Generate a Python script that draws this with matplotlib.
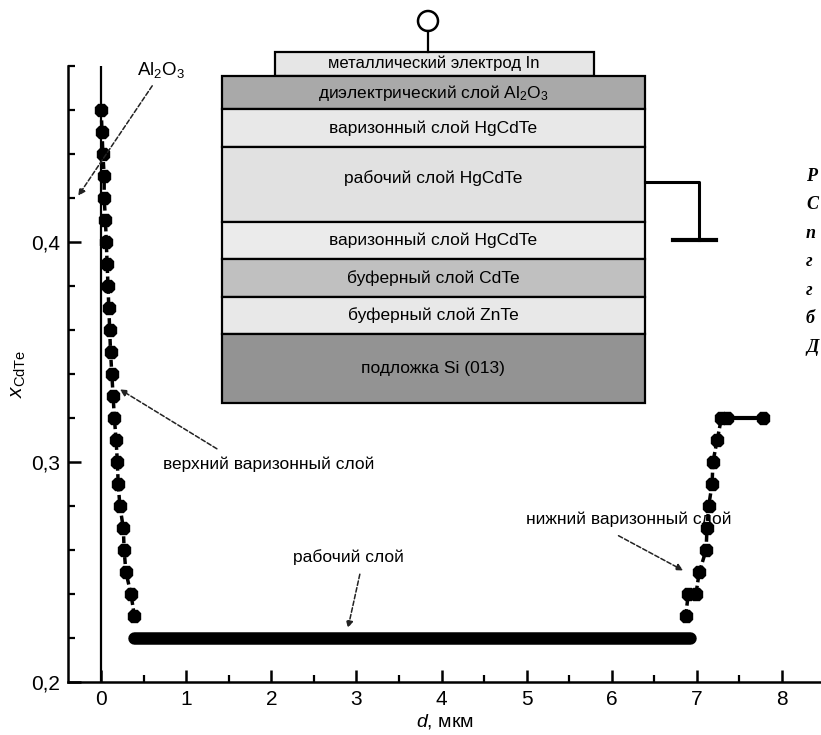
import matplotlib
matplotlib.use("Agg")
import matplotlib.pyplot as plt
from matplotlib.patches import Rectangle, Circle
from matplotlib.ticker import MultipleLocator, FixedLocator

plt.rcParams['font.family'] = ['Liberation Sans', 'DejaVu Sans']
plt.rcParams['mathtext.fontset'] = 'custom'
plt.rcParams['mathtext.rm'] = 'Liberation Sans'
plt.rcParams['mathtext.it'] = 'Liberation Sans:italic'

# composition profile x_CdTe(d)
top_d = [0.00, 0.01, 0.02, 0.035, 0.035, 0.05, 0.06, 0.07, 0.08, 0.09, 0.10, 0.11,
         0.125, 0.14, 0.155, 0.175, 0.19, 0.20, 0.22, 0.26, 0.27, 0.29, 0.35, 0.39]
top_x = [0.46, 0.45, 0.44, 0.43, 0.42, 0.41, 0.40, 0.39, 0.38, 0.37, 0.36, 0.35,
         0.34, 0.33, 0.32, 0.31, 0.30, 0.29, 0.28, 0.27, 0.26, 0.25, 0.24, 0.23]
work_d = [0.38, 6.92]
work_x = [0.22, 0.22]
bot_d = [6.87, 6.90, 6.99, 7.03, 7.11, 7.12, 7.14, 7.18, 7.19, 7.24, 7.29, 7.35, 7.78]
bot_x = [0.23, 0.24, 0.24, 0.25, 0.26, 0.27, 0.28, 0.29, 0.30, 0.31, 0.32, 0.32, 0.32]

y_ticks = [0.2, 0.3, 0.4]
y_ticklabels = ['0,2', '0,3', '0,4']
x_ticks = [0, 1, 2, 3, 4, 5, 6, 7, 8]

# layer stack schematic (top to bottom)
layer_names = ['диэлектрический слой Al$_2$O$_3$', 'варизонный слой HgCdTe',
               'рабочий слой HgCdTe', 'варизонный слой HgCdTe',
               'буферный слой CdTe', 'буферный слой ZnTe', 'подложка Si (013)']
layer_colors = ['#a9a9a9', '#e8e8e8', '#e1e1e1', '#ebebeb', '#c0c0c0', '#e8e8e8', '#939393']
layer_bounds = [76, 109, 147, 222, 259, 297, 334, 403]  # pixel rows
electrode_name = 'металлический электрод In'

fig = plt.figure(figsize=(8.21, 7.35), dpi=100)
ax = fig.add_axes([68 / 821, 53 / 735, 1 - 68 / 821, 616 / 735])

ax.axvline(0, color='black', lw=1.6, zorder=1)
ax.plot(top_d, top_x, color='black', ls=(0, (2, 1)), lw=2.5, marker='8', ms=9.5,
        mfc='black', mec='black', zorder=3)
ax.plot(work_d, work_x, color='black', lw=9, solid_capstyle='round', zorder=3)
ax.plot(bot_d, bot_x, color='black', ls=(0, (2, 1)), lw=2.5, marker='8', ms=9.5,
        mfc='black', mec='black', zorder=3)
ax.plot(bot_d[-2:], bot_x[-2:], color='black', lw=3, zorder=3)

ax.set_xlim(-0.39, 8.46)
ax.set_ylim(0.2, 0.48)
for s in ['top', 'right']:
    ax.spines[s].set_visible(False)
for s in ['left', 'bottom']:
    ax.spines[s].set_linewidth(1.8)

ax.set_yticks(y_ticks)
ax.set_yticklabels(y_ticklabels)
ax.yaxis.set_minor_locator(FixedLocator([0.22, 0.24, 0.26, 0.28, 0.32, 0.34, 0.36, 0.38,
                                         0.42, 0.44, 0.46, 0.48]))
ax.set_xticks(x_ticks)
ax.xaxis.set_minor_locator(MultipleLocator(0.5))
ax.tick_params(which='major', direction='in', length=9, width=1.8, labelsize=15, pad=6)
ax.tick_params(which='minor', direction='in', length=5, width=1.6)

ax.set_xlabel('$d$, мкм', fontsize=14, labelpad=2)
ax.set_ylabel('$x_{\\mathrm{CdTe}}$', fontsize=15, labelpad=2)

arrow = dict(arrowstyle='-|>', color='#222222', lw=1.1, ls=(0, (3, 1.5)),
             mutation_scale=10, shrinkA=0, shrinkB=0)
ax.text(0.42, 0.478, 'Al$_2$O$_3$', fontsize=13.5, ha='left', va='center')
ax.annotate('', xy=(-0.27, 0.421), xytext=(0.6, 0.471), arrowprops=arrow,
            annotation_clip=False)
ax.annotate('', xy=(0.22, 0.333), xytext=(1.36, 0.306), arrowprops=arrow)
ax.text(0.73, 0.299, 'верхний варизонный слой', fontsize=12.5, ha='left', va='center')
ax.annotate('', xy=(2.9, 0.2245), xytext=(3.04, 0.249), arrowprops=arrow)
ax.text(2.91, 0.257, 'рабочий слой', fontsize=12.5, ha='center', va='center')
ax.annotate('', xy=(6.84, 0.2507), xytext=(6.08, 0.2665), arrowprops=arrow)
ax.text(6.2, 0.274, 'нижний варизонный слой', fontsize=12.5, ha='center', va='center')

# overlay for the schematic, pixel coordinates
ov = fig.add_axes([0, 0, 1, 1])
ov.set_xlim(0, 821)
ov.set_ylim(735, 0)
ov.axis('off')

ov.add_patch(Rectangle((275, 52), 319, 24, fc='#e6e6e6', ec='black', lw=1.6))
ov.text(434, 63, electrode_name, fontsize=12, ha='center', va='center')
ov.plot([428, 428], [31, 52], color='black', lw=1.6)
ov.add_patch(Circle((428, 21), 10, fc='white', ec='black', lw=1.8))

for i, name in enumerate(layer_names):
    y0, y1 = layer_bounds[i], layer_bounds[i + 1]
    ov.add_patch(Rectangle((222, y0), 423, y1 - y0, fc=layer_colors[i], ec='black', lw=1.6))
    yc = (y0 + y1) / 2
    if i == 2:
        yc = y0 + 31
    ov.text(433, yc, name, fontsize=12.5, ha='center', va='center')

# ground symbol
ov.plot([645, 699, 699], [182, 182, 240], color='black', lw=2.2)
ov.plot([673, 716], [240, 240], color='black', lw=3)

# caption cut off at right edge
caption_letters = ['Р', 'С', 'п', 'г', 'г', 'б', 'Д']
for k, ch in enumerate(caption_letters):
    ov.text(806, 176 + k * 28.5, ch, fontsize=13, family='Liberation Serif',
            style='italic', weight='bold', ha='left', va='center')

fig.savefig('out.png', dpi=100)
